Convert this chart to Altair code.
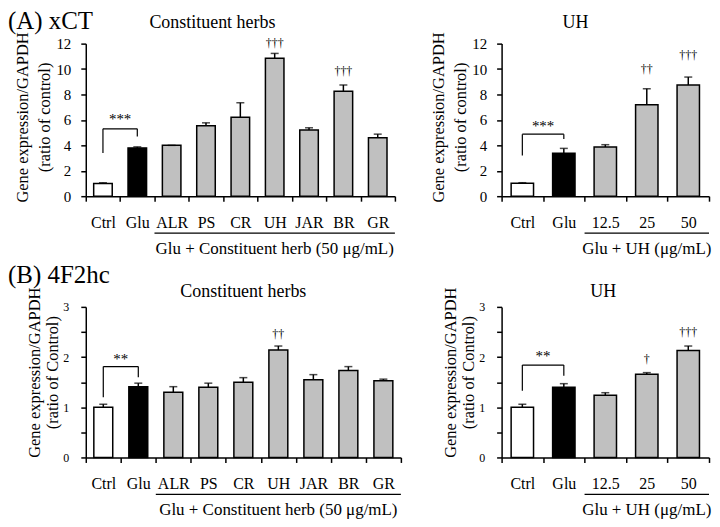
import altair as alt
import pandas as pd

FONT = "Liberation Serif"

# ---------------- data ----------------
# (A) xCT - constituent herbs
a1_cats = ["Ctrl", "Glu", "ALR", "PS", "CR", "UH", "JAR", "BR", "GR"]
a1_kinds = ["ctrl", "glu", "treat", "treat", "treat", "treat", "treat", "treat", "treat"]
a1_vals = [1.0, 3.8, 4.0, 5.55, 6.2, 10.85, 5.2, 8.25, 4.6]
a1_errs = [0.05, 0.08, 0.0, 0.22, 1.15, 0.38, 0.18, 0.5, 0.28]
a1_dag_cats = ["UH", "BR"]
a1_dag_text = ["†††", "†††"]
a1_dag_y = [12.05, 9.85]
a1_bracket = [5.3, 3.4, 4.7]   # top, left leg end, right leg end
a1_star = ["***", 6.1]

# (A) xCT - UH
a2_cats = ["Ctrl", "Glu", "12.5", "25", "50"]
a2_kinds = ["ctrl", "glu", "treat", "treat", "treat"]
a2_vals = [1.02, 3.38, 3.87, 7.2, 8.75]
a2_errs = [0.04, 0.38, 0.18, 1.25, 0.62]
a2_dag_cats = ["25", "50"]
a2_dag_text = ["††", "†††"]
a2_dag_y = [10.0, 11.1]
a2_bracket = [4.88, 3.2, 4.5]
a2_star = ["***", 5.55]

# (B) 4F2hc - constituent herbs
b1_cats = a1_cats
b1_kinds = a1_kinds
b1_vals = [1.0, 1.41, 1.30, 1.40, 1.50, 2.14, 1.55, 1.73, 1.53]
b1_errs = [0.06, 0.07, 0.11, 0.08, 0.09, 0.08, 0.10, 0.08, 0.03]
b1_dag_cats = ["UH"]
b1_dag_text = ["††"]
b1_dag_y = [2.45]
b1_bracket = [1.81, 1.2, 1.6]
b1_star = ["**", 1.97]

# (B) 4F2hc - UH
b2_cats = a2_cats
b2_kinds = a2_kinds
b2_vals = [1.0, 1.40, 1.24, 1.66, 2.13]
b2_errs = [0.06, 0.07, 0.05, 0.03, 0.09]
b2_dag_cats = ["25", "50"]
b2_dag_text = ["†", "†††"]
b2_dag_y = [1.97, 2.49]
b2_bracket = [1.84, 1.33, 1.63]
b2_star = ["**", 2.02]

A_ticks = [0, 2, 4, 6, 8, 10, 12]
B_ticks = [0, 0.5, 1, 1.5, 2, 2.5, 3]


def make_panel(cats, kinds, vals, errs, dag_cats, dag_text, dag_y, bracket, star,
               ymax, yticks, minor_labels, ylab_size, ylab_pad, ytitle, ytitle_lh,
               ytitle_pad, ytitle_dy, title, title_x, title_y, grp_text, grp_start,
               grp_end, grp_center, width, height, panel_label=None, label_y=-15):
    xaxis = alt.Axis(labelAngle=0, labelFontSize=16, labelPadding=13,
                     tickBand="extent", tickSize=5)
    ykw = dict(values=yticks, labelFontSize=ylab_size, labelPadding=ylab_pad,
               tickSize=5, title=ytitle, titleFontSize=16.5,
               titleLineHeight=ytitle_lh, titlePadding=ytitle_pad,
               titleY=height / 2 - ytitle_dy)
    if minor_labels:
        ykw["labelExpr"] = "datum.value % 1 == 0 ? format(datum.value, 'd') : ''"
    yaxis = alt.Axis(**ykw)

    def xenc(field, **kw):
        return alt.X(f"{field}:N", sort=cats,
                     scale=alt.Scale(domain=cats, paddingInner=0, paddingOuter=0),
                     axis=xaxis, title=None, **kw)

    def yenc(field):
        return alt.Y(f"{field}:Q", scale=alt.Scale(domain=[0, ymax], nice=False),
                     axis=yaxis)

    df = pd.DataFrame({"cat": cats, "kind": kinds, "val": vals, "err": errs})
    df["top"] = df["val"] + df["err"]

    bars = alt.Chart(df).mark_bar(stroke="black", strokeWidth=1.5,
                                  width=alt.RelativeBandSize(0.54)).encode(
        x=xenc("cat"), y=yenc("val"),
        fill=alt.Fill("kind:N", scale=alt.Scale(domain=["ctrl", "glu", "treat"],
                                                range=["white", "black", "#c0c0c0"]),
                      legend=None))
    err_rule = alt.Chart(df).mark_rule(color="black", strokeWidth=1.5).encode(
        x=xenc("cat"), y=yenc("val"), y2=alt.Y2("top:Q"))
    err_cap = alt.Chart(df).mark_tick(color="black", size=8, thickness=1.5).encode(
        x=xenc("cat"), y=yenc("top"))

    br_h = pd.DataFrame({"s": [cats[0]], "e": [cats[1]], "top": [bracket[0]]})
    br_v = pd.DataFrame({"cat": [cats[0], cats[1]], "top": [bracket[0], bracket[0]],
                         "low": [bracket[1], bracket[2]]})
    bracket_h = alt.Chart(br_h).mark_rule(color="black", strokeWidth=1.2).encode(
        x=xenc("s", bandPosition=0.5), x2=alt.X2("e:N", bandPosition=0.5), y=yenc("top"))
    bracket_v = alt.Chart(br_v).mark_rule(color="black", strokeWidth=1.2).encode(
        x=xenc("cat"), y=yenc("top"), y2=alt.Y2("low:Q"))

    st = pd.DataFrame({"cat": [cats[1]], "y": [star[1]], "t": [star[0]]})
    stars = alt.Chart(st).mark_text(fontSize=15, baseline="middle", color="black").encode(
        x=xenc("cat", bandPosition=0), y=yenc("y"), text="t:N")

    dg = pd.DataFrame({"cat": dag_cats, "y": dag_y, "t": dag_text})
    daggers = alt.Chart(dg).mark_text(fontSize=12, baseline="middle", color="black").encode(
        x=xenc("cat"), y=yenc("y"), text="t:N")

    gr = pd.DataFrame({"s": [grp_start], "e": [grp_end], "c": [grp_center], "t": [grp_text]})
    grp_rule = alt.Chart(gr).mark_rule(color="black", strokeWidth=1.2).encode(
        x=xenc("s", bandPosition=0), x2=alt.X2("e:N", bandPosition=1),
        y=alt.value(height + 37))
    grp_label = alt.Chart(gr).mark_text(fontSize=17, baseline="alphabetic", color="black").encode(
        x=xenc("c"), y=alt.value(height + 58), text="t:N")

    tt = pd.DataFrame({"t": [title]})
    title_mark = alt.Chart(tt).mark_text(fontSize=18, baseline="alphabetic", color="black").encode(
        x=alt.value(title_x), y=alt.value(title_y), text="t:N")

    layers = [bars, err_rule, err_cap, bracket_h, bracket_v, stars, daggers,
              grp_rule, grp_label, title_mark]
    if panel_label is not None:
        pl = pd.DataFrame({"t": [panel_label]})
        layers.append(alt.Chart(pl).mark_text(fontSize=25, align="left",
                                              baseline="alphabetic", color="black").encode(
            x=alt.value(-78), y=alt.value(label_y), text="t:N"))

    return alt.layer(*layers).properties(width=width, height=height)


A_title = ["Gene expression/GAPDH", "(ratio of control)"]
B_title = ["Gene expression/GAPDH", "(ratio of Control)"]

a1 = make_panel(a1_cats, a1_kinds, a1_vals, a1_errs, a1_dag_cats, a1_dag_text, a1_dag_y,
                a1_bracket, a1_star, 12, A_ticks, False, 15, 10, A_title, 22, 3, 3,
                "Constituent herbs", 127, -16, "Glu + Constituent herb (50 μg/mL)",
                "ALR", "GR", "UH", 310, 153, panel_label="(A) xCT", label_y=-15)
a2 = make_panel(a2_cats, a2_kinds, a2_vals, a2_errs, a2_dag_cats, a2_dag_text, a2_dag_y,
                a2_bracket, a2_star, 12, A_ticks, False, 15, 10, A_title, 22, 3, 3,
                "UH", 74, -16, "Glu + UH (μg/mL)", "12.5", "50", "25", 208, 153)
b1 = make_panel(b1_cats, b1_kinds, b1_vals, b1_errs, b1_dag_cats, b1_dag_text, b1_dag_y,
                b1_bracket, b1_star, 3, B_ticks, True, 12, 12, B_title, 18, 2, 10,
                "Constituent herbs", 158, -10, "Glu + Constituent herb (50 μg/mL)",
                "ALR", "GR", "UH", 316, 151, panel_label="(B) 4F2hc", label_y=-24)
b2 = make_panel(b2_cats, b2_kinds, b2_vals, b2_errs, b2_dag_cats, b2_dag_text, b2_dag_y,
                b2_bracket, b2_star, 3, B_ticks, True, 12, 12, B_title, 18, 2, 10,
                "UH", 102, -10, "Glu + UH (μg/mL)", "12.5", "50", "25", 208, 151)

chart = alt.concat(a1, a2, b1, b2, columns=2, bounds="flush",
                   spacing=alt.RowColnumber(row=111, column=101)).properties(
    padding=0
).configure_view(stroke=None).configure_axis(
    domainColor="black", tickColor="black", labelColor="black", titleColor="black",
    domainWidth=1.5, tickWidth=1.5, labelFont=FONT, titleFont=FONT,
    titleFontWeight="normal", grid=False
).configure_text(font=FONT)

chart.save("out.html", embed_options={"renderer": "svg", "actions": False})
